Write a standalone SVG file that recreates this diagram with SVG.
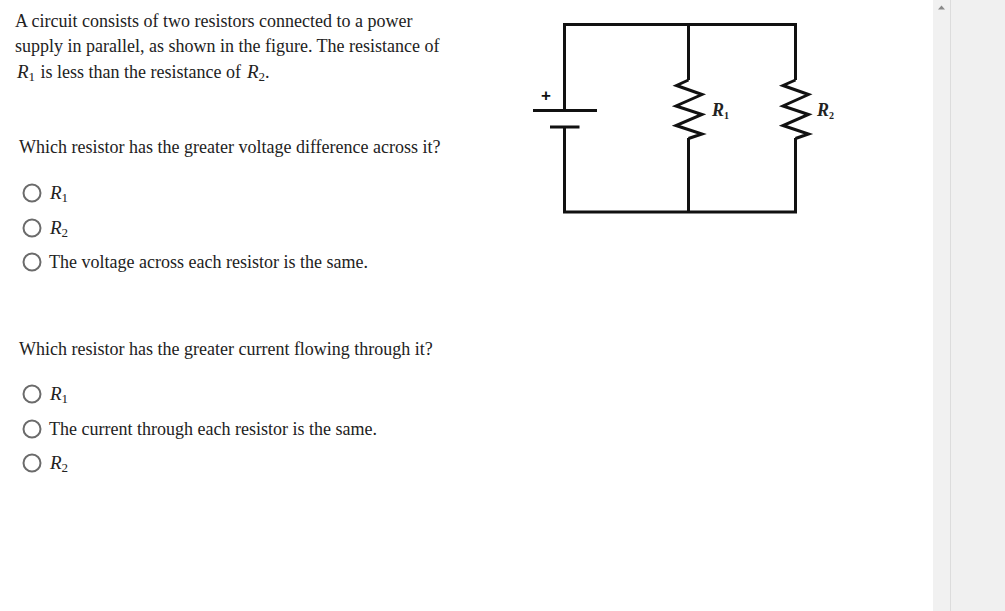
<svg xmlns="http://www.w3.org/2000/svg" width="1005" height="611" viewBox="0 0 1005 611">
<style>
.t{font-family:"Liberation Serif","Times New Roman",serif;font-size:18px;fill:#222}
.v{font-style:italic;font-size:19px}
.s{font-size:13px}
.w{fill:none;stroke:#111;stroke-width:3;stroke-linejoin:miter}
.o{fill:#fff;stroke:#6b6b6b;stroke-width:2}
.l{font-family:"Liberation Serif","Times New Roman",serif;font-style:italic;font-weight:bold;font-size:18px;fill:#222}
.ls{font-size:10px;font-style:normal}
</style>
<rect width="1005" height="611" fill="#fff"/>
<g id="scrollbar">
<rect x="933" y="0" width="17" height="611" fill="#f1f1f1"/>
<rect x="950" y="0" width="1" height="611" fill="#dcdcdc"/>
<rect x="951" y="0" width="54" height="611" fill="#f0f0f0"/>
<polygon points="941.500,5.500 945,9.500 938,9.500" fill="#8a8a8a"/>
</g>
<g id="question-text">
<text class="t" x="15" y="27">A circuit consists of two resistors connected to a power</text>
<text class="t" x="15" y="52">supply in parallel, as shown in the figure. The resistance of</text>
<text class="t" x="17" y="78"><tspan class="v">R</tspan><tspan class="s" dy="3">1</tspan><tspan x="40.500" dy="-3">is less than the resistance of</tspan><tspan class="v" x="247">R</tspan><tspan class="s" dy="3">2</tspan><tspan dy="-3">.</tspan></text>
<text class="t" x="19" y="152.500">Which resistor has the greater voltage difference across it?</text>
<text class="t" x="19" y="354.500">Which resistor has the greater current flowing through it?</text>
</g>
<g id="option-1-1"><circle class="o" cx="32" cy="193" r="8.500"/><text class="t" x="50" y="199"><tspan class="v">R</tspan><tspan class="s" dy="3">1</tspan></text></g>
<g id="option-1-2"><circle class="o" cx="32" cy="228" r="8.500"/><text class="t" x="50" y="234"><tspan class="v">R</tspan><tspan class="s" dy="3">2</tspan></text></g>
<g id="option-1-3"><circle class="o" cx="32" cy="262" r="8.500"/><text class="t" x="49" y="267.500">The voltage across each resistor is the same.</text></g>
<g id="option-2-1"><circle class="o" cx="32" cy="394" r="8.500"/><text class="t" x="50" y="400"><tspan class="v">R</tspan><tspan class="s" dy="3">1</tspan></text></g>
<g id="option-2-2"><circle class="o" cx="32" cy="429" r="8.500"/><text class="t" x="49" y="434.500">The current through each resistor is the same.</text></g>
<g id="option-2-3"><circle class="o" cx="32" cy="463" r="8.500"/><text class="t" x="50" y="469"><tspan class="v">R</tspan><tspan class="s" dy="3">2</tspan></text></g>
<g id="connectors">
<path class="w" d="M564.500 110V24.500H795.500V80M688.500 24.500V80M688.500 138V212M795.500 138V212H564.500V127"/>
</g>
<g id="battery">
<path class="w" d="M533 110.500H597M550 127H579.500"/>
<text x="546" y="100.500" text-anchor="middle" font-family="Liberation Sans,Arial,sans-serif" font-weight="bold" font-size="17" fill="#111">+</text>
</g>
<g id="R1">
<path class="w" d="M688.500 80L676.500 85.500L702 94.500L676 106L702 114.500L676 125.500L702 134L688.500 138.500"/>
<text class="l" x="712" y="116">R<tspan class="ls" dy="3">1</tspan></text>
</g>
<g id="R2">
<path class="w" d="M795.500 80L783 85.500L808.500 94.500L783 106L808.500 114.500L783 125.500L808.500 134L795.500 138.500"/>
<text class="l" x="817" y="116">R<tspan class="ls" dy="3">2</tspan></text>
</g>
</svg>
